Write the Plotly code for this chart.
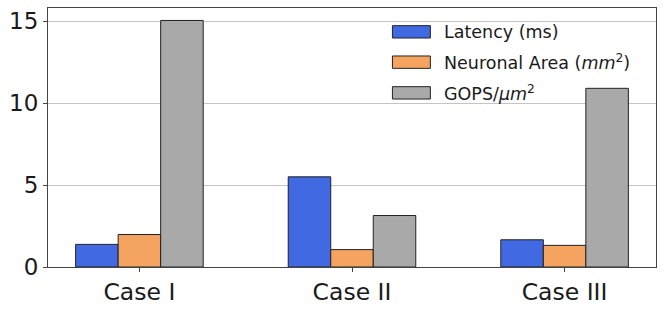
import plotly.graph_objects as go

categories = ["Case I", "Case II", "Case III"]
series_names = ["Latency (ms)", "Neuronal Area (<i>mm</i><sup>2</sup>)", "GOPS/<i>μm</i><sup>2</sup>"]
latency = [1.38, 5.50, 1.66]
neuronal_area = [1.98, 1.06, 1.32]
gops = [15.04, 3.14, 10.90]
y_ticks = [0, 5, 10, 15]

colors = ["#4169E1", "#F4A460", "#A9A9A9"]
values = [latency, neuronal_area, gops]

W, H = 664, 313
L, R, T, B = 48, 7, 8, 41
pw, ph = W - L - R, H - T - B

fig = go.Figure()
for name, vals, col in zip(series_names, values, colors):
    fig.add_trace(go.Bar(
        x=categories, y=vals, name=name,
        marker=dict(color=col, line=dict(color="#222222", width=1)),
        showlegend=False,
    ))

# custom matplotlib-style legend (patch + text), positioned in pixels
def px_x(p):
    return (p - L) / pw

def px_y(p):
    return (H - B - p) / ph

shapes = []
annotations = []
row_centers = [32.3, 63.2, 94.5]
for name, col, cy in zip(series_names, colors, row_centers):
    shapes.append(dict(
        type="rect", xref="paper", yref="paper",
        x0=px_x(393), x1=px_x(431), y0=px_y(cy + 6.3), y1=px_y(cy - 6.3),
        fillcolor=col, line=dict(color="#222222", width=1), layer="above",
    ))
    annotations.append(dict(
        xref="paper", yref="paper", x=px_x(443), y=px_y(cy),
        xanchor="left", yanchor="middle", text=name, showarrow=False,
        font=dict(family="DejaVu Sans", size=17.5, color="#1a1a1a"),
    ))

fig.update_layout(
    width=W, height=H,
    margin=dict(l=L, r=R, t=T, b=B, pad=0),
    paper_bgcolor="white", plot_bgcolor="white",
    barmode="group", bargap=0.4, bargroupgap=0,
    font=dict(family="DejaVu Sans", size=23, color="#1a1a1a"),
    shapes=shapes, annotations=annotations,
    showlegend=False,
)
fig.update_xaxes(
    range=[-0.43, 2.43], showgrid=False,
    showline=True, mirror=True, linecolor="#444444", linewidth=1,
    ticks="outside", ticklen=4, tickcolor="#444444",
    tickfont=dict(size=23.5), ticklabelstandoff=0,
)
fig.update_yaxes(
    range=[0, 15.8], tickvals=y_ticks, showgrid=True, gridcolor="#c4c4c4", gridwidth=1,
    zeroline=False,
    showline=True, mirror=True, linecolor="#444444", linewidth=1,
    ticks="outside", ticklen=4, tickcolor="#444444",
    tickfont=dict(size=23),
)

fig.write_html(
    "out.html",
    config={"displayModeBar": False},
    post_script="document.body.style.margin='0';document.body.style.overflow='hidden';",
)
